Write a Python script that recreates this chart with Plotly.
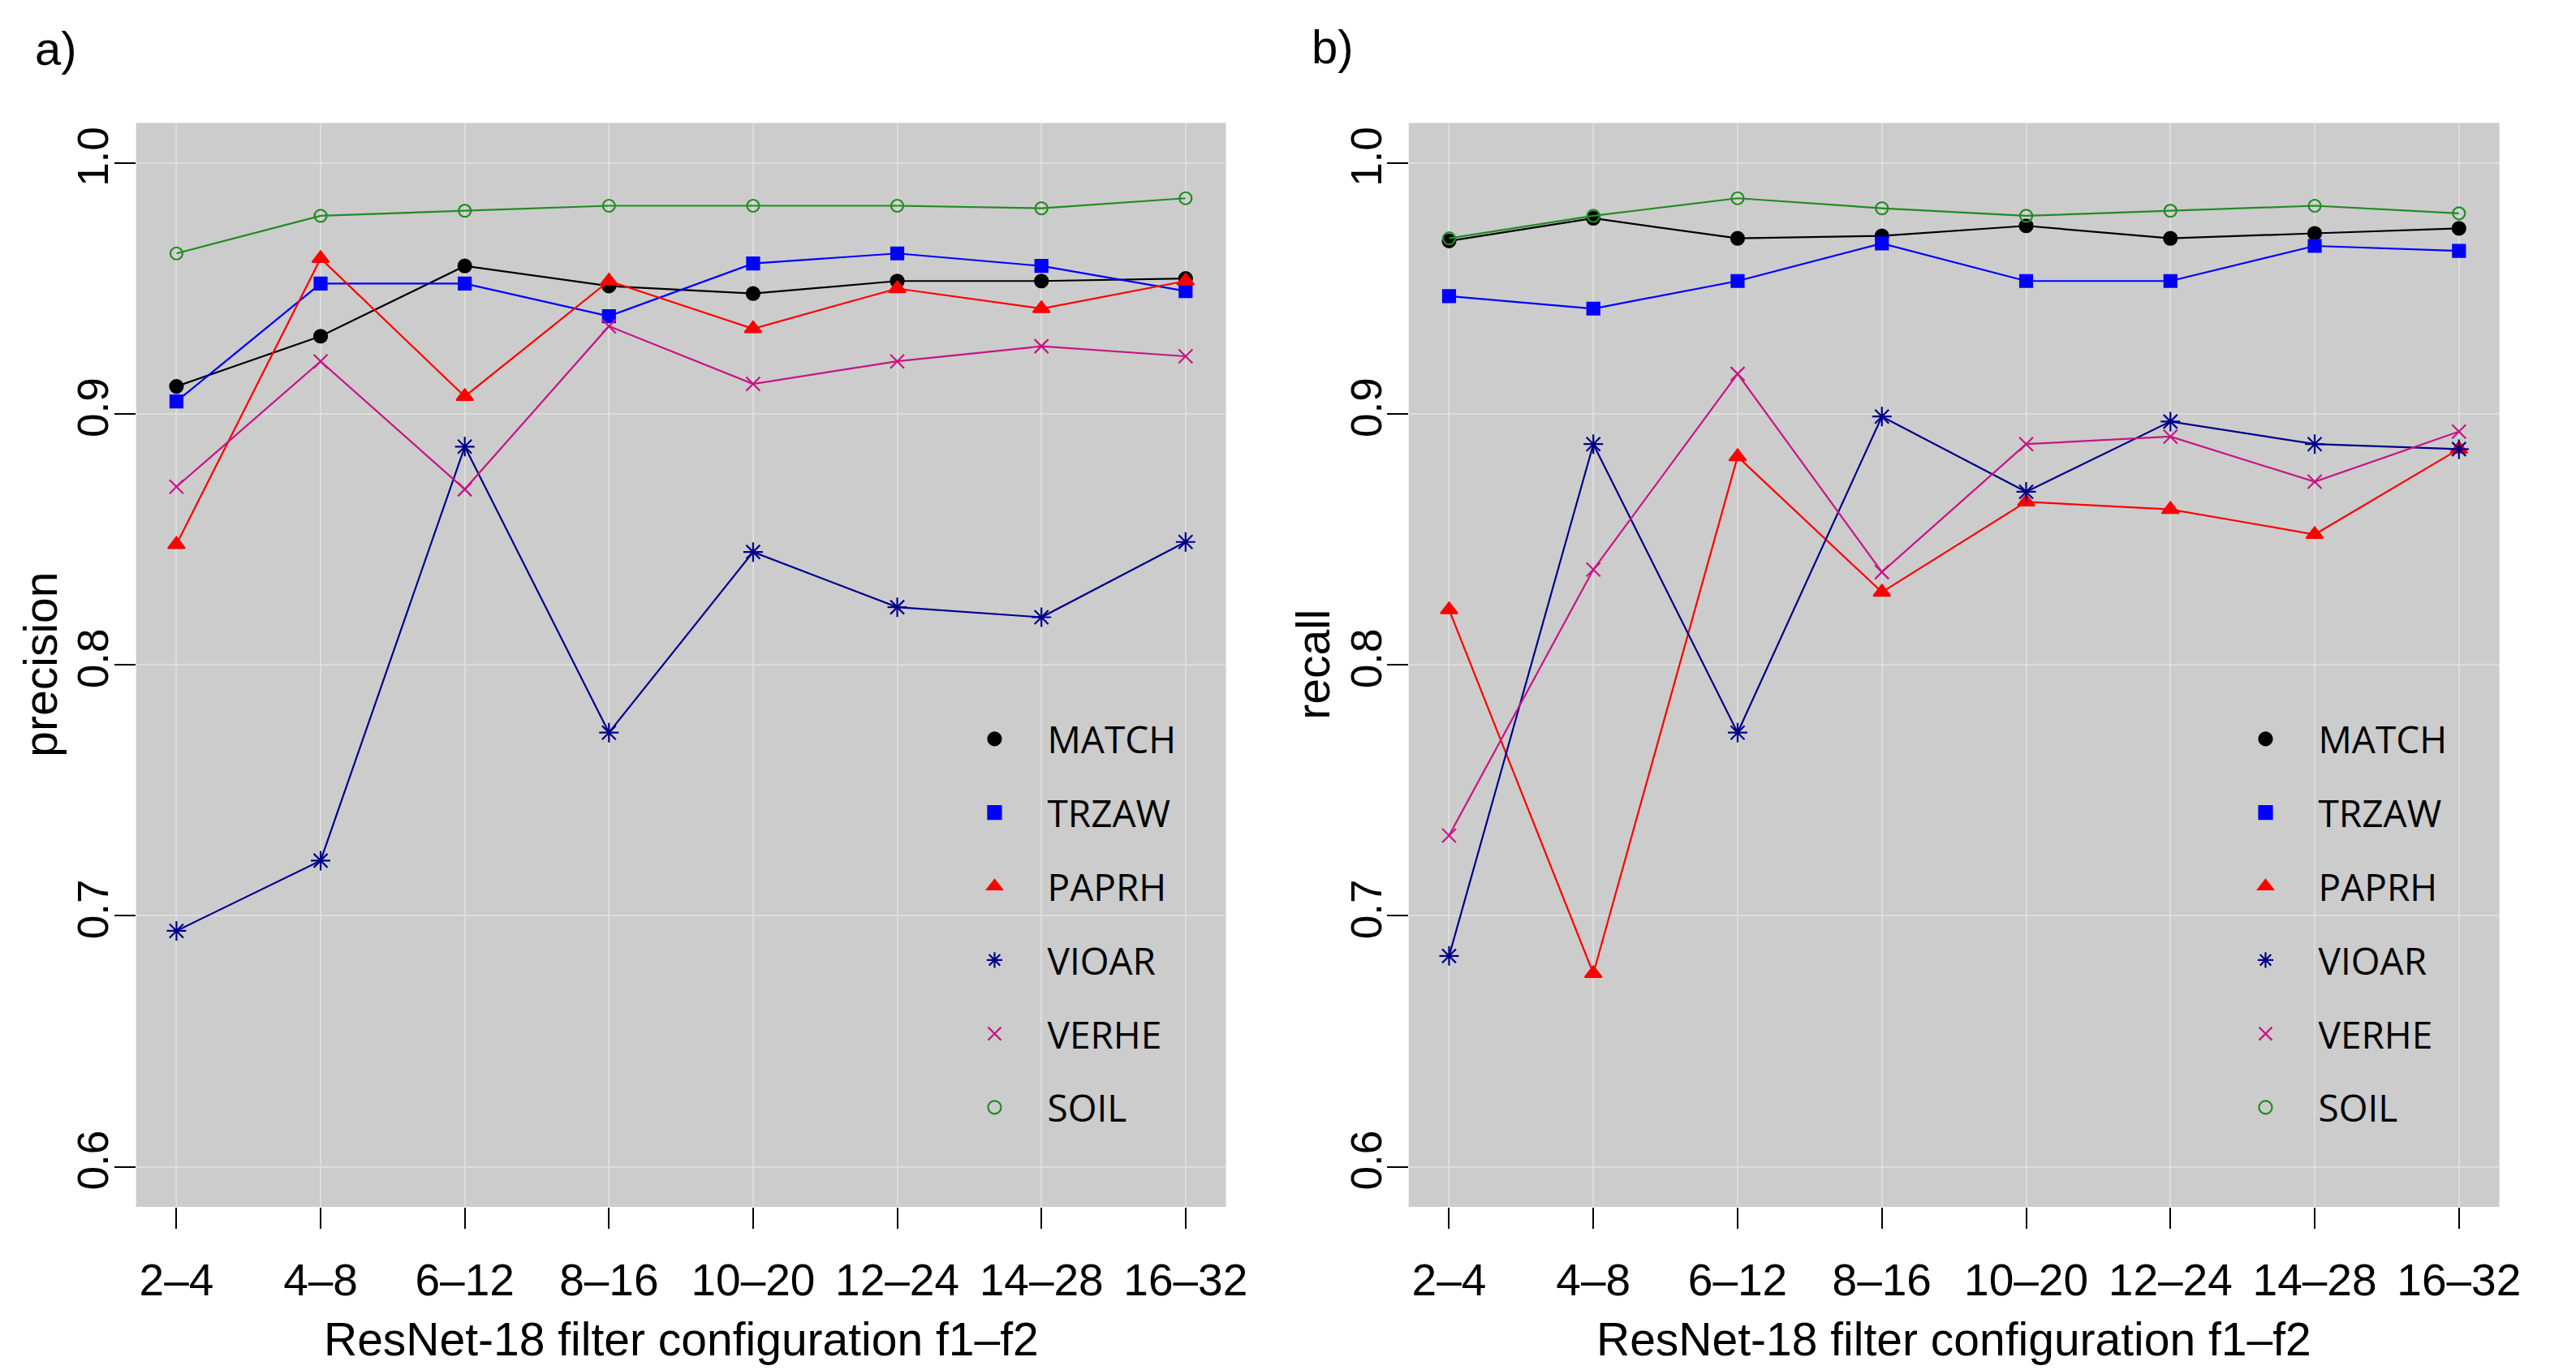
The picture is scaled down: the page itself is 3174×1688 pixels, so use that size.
import plotly.graph_objects as go

# filter configurations f1-f2
configs = ["2–4", "4–8", "6–12", "8–16", "10–20", "12–24", "14–28", "16–32"]
classes = ["MATCH", "TRZAW", "PAPRH", "VIOAR", "VERHE", "SOIL"]

# panel a) precision
prec_match = [0.911, 0.931, 0.959, 0.951, 0.948, 0.953, 0.953, 0.954]
prec_trzaw = [0.905, 0.952, 0.952, 0.939, 0.960, 0.964, 0.959, 0.949]
prec_paprh = [0.848, 0.962, 0.907, 0.953, 0.934, 0.950, 0.942, 0.953]
prec_vioar = [0.694, 0.722, 0.887, 0.773, 0.845, 0.823, 0.819, 0.849]
prec_verhe = [0.871, 0.921, 0.870, 0.935, 0.912, 0.921, 0.927, 0.923]
prec_soil = [0.964, 0.979, 0.981, 0.983, 0.983, 0.983, 0.982, 0.986]

# panel b) recall
rec_match = [0.969, 0.978, 0.970, 0.971, 0.975, 0.970, 0.972, 0.974]
rec_trzaw = [0.947, 0.942, 0.953, 0.968, 0.953, 0.953, 0.967, 0.965]
rec_paprh = [0.822, 0.677, 0.883, 0.829, 0.865, 0.862, 0.852, 0.886]
rec_vioar = [0.684, 0.888, 0.773, 0.899, 0.869, 0.897, 0.888, 0.886]
rec_verhe = [0.732, 0.838, 0.916, 0.837, 0.888, 0.891, 0.873, 0.893]
rec_soil = [0.970, 0.979, 0.986, 0.982, 0.979, 0.981, 0.983, 0.980]

y_ticks = [0.6, 0.7, 0.8, 0.9, 1.0]
y_ticktext = ["0.6", "0.7", "0.8", "0.9", "1.0"]

colors = ["#000000", "#0000FF", "#FF0000", "#00008B", "#C71585", "#228B22"]
symbols = ["circle", "square", "triangle-up", "asterisk-open", "x-thin-open", "circle-open"]
sizes = [16, 15, 18, 20, 17, 15]

SANS = "Liberation Sans, Arial, sans-serif"
LEGEND_FONT = "Open Sans, Liberation Sans, sans-serif"

# the page has an 8px body margin, so the figure is placed at (8, 8)
W, H = 3166, 1680


def px(x):
    return (x - 8) / W


def py(y):
    return 1 - (y - 8) / H


fig = go.Figure()

panels = [
    ("x", "y", "legend", [prec_match, prec_trzaw, prec_paprh, prec_vioar, prec_verhe, prec_soil]),
    ("x2", "y2", "legend2", [rec_match, rec_trzaw, rec_paprh, rec_vioar, rec_verhe, rec_soil]),
]
for xa, ya, leg, series in panels:
    for i, (name, vals) in enumerate(zip(classes, series)):
        fig.add_trace(go.Scatter(
            x=configs, y=vals, name=name, mode="lines+markers",
            xaxis=xa, yaxis=ya, showlegend=False,
            line=dict(color=colors[i], width=2.2),
            marker=dict(symbol=symbols[i], size=sizes[i], color=colors[i],
                        line=dict(color=colors[i], width=2.2)),
        ))
    # legend entries: symbol only, like the R legend
    for i, name in enumerate(classes):
        fig.add_trace(go.Scatter(
            x=[None], y=[None], name=name, mode="markers",
            xaxis=xa, yaxis=ya, legend=leg, legendgroup=leg + name,
            marker=dict(symbol=symbols[i], size=26, color=colors[i],
                        line=dict(color=colors[i], width=2.2)),
        ))

axis_x = dict(
    type="category", range=[-0.28, 7.28], showgrid=True, gridcolor="#DDDDDD", gridwidth=2,
    ticks="outside", ticklen=26, tickwidth=2, tickcolor="#000000", showline=False,
    zeroline=False, tickfont=dict(family=SANS, size=55, color="#000000"),
    ticklabelstandoff=16,
)
axis_y = dict(
    range=[0.584, 1.016], tickvals=y_ticks, ticktext=y_ticktext, tickangle=-90,
    showgrid=True, gridcolor="#DDDDDD", gridwidth=2, ticks="outside", ticklen=26,
    tickwidth=2, tickcolor="#000000", showline=False, zeroline=False,
    tickfont=dict(family=SANS, size=53, color="#000000"), ticklabelstandoff=-14,
    domain=[py(1487), py(151.5)],
)

legend_common = dict(
    bgcolor="rgba(0,0,0,0)", font=dict(family=LEGEND_FONT, size=46, color="#000000"),
    tracegroupgap=28, itemwidth=120, xanchor="left", yanchor="top",
)

title_font = dict(family=SANS, size=57, color="#000000")
annotations = [
    dict(text="a)", x=px(70), y=py(59), font=dict(family=SANS, size=58, color="#000000")),
    dict(text="b)", x=px(1656), y=py(57), font=dict(family=SANS, size=58, color="#000000")),
    dict(text="precision", x=px(50), y=py(819), textangle=-90, font=title_font),
    dict(text="recall", x=px(1631), y=py(819), textangle=-90, font=title_font),
    dict(text="ResNet-18 filter configuration f1–f2", x=px(846), y=py(1650), font=title_font),
    dict(text="ResNet-18 filter configuration f1–f2", x=px(2427), y=py(1650), font=title_font),
]
for a in annotations:
    a.update(xref="paper", yref="paper", showarrow=False, xanchor="center", yanchor="middle")

fig.update_layout(
    width=W, height=H,
    margin=dict(l=0, r=0, t=0, b=0),
    paper_bgcolor="#FFFFFF", plot_bgcolor="#CCCCCC",
    font=dict(family=SANS, color="#000000"),
    xaxis=dict(axis_x, domain=[px(169), px(1523)], anchor="y"),
    yaxis=dict(axis_y, anchor="x"),
    xaxis2=dict(axis_x, domain=[px(1750), px(3105)], anchor="y2"),
    yaxis2=dict(axis_y, anchor="x2"),
    legend=dict(legend_common, x=px(1170), y=py(874)),
    legend2=dict(legend_common, x=px(2749), y=py(874)),
    showlegend=True,
    annotations=annotations,
)

fig.write_html("out.html")
